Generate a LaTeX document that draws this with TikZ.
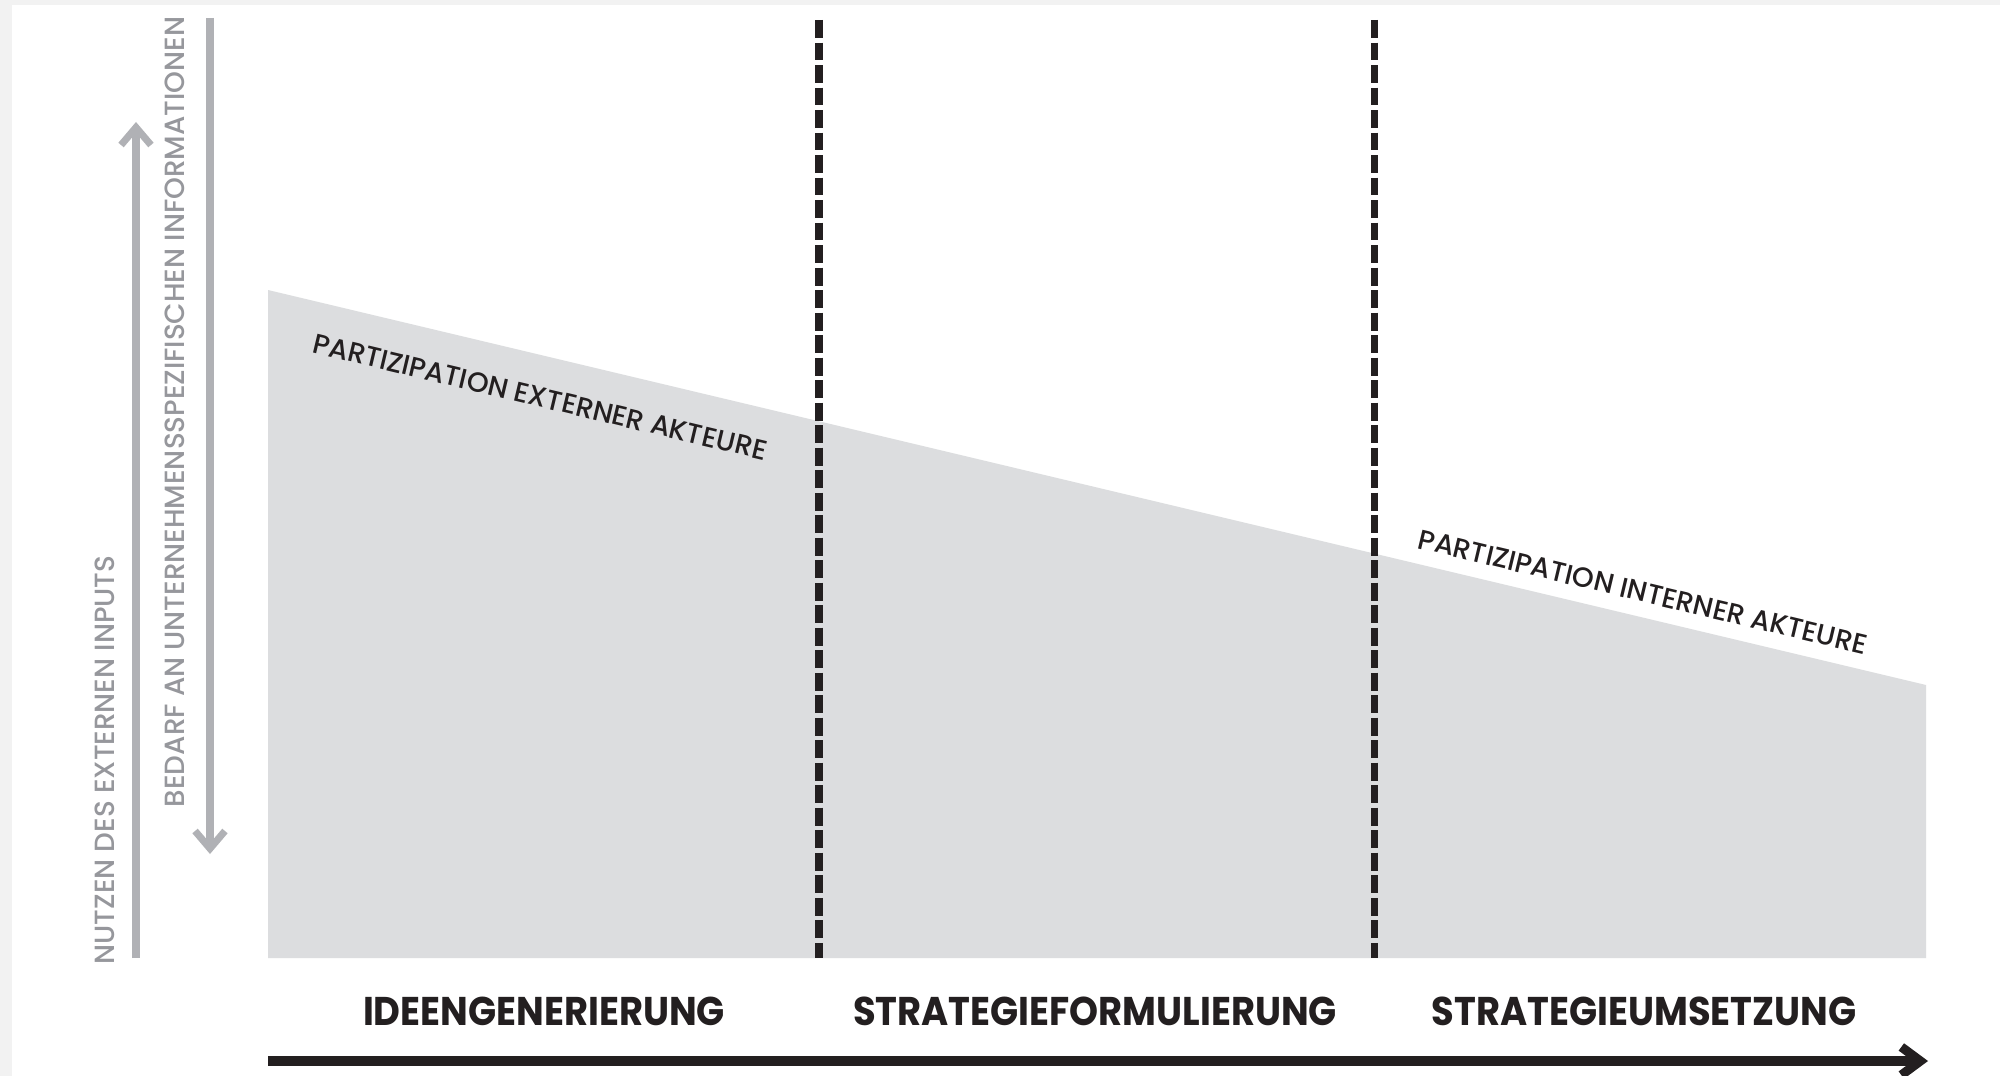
\documentclass[tikz,border=0pt]{standalone}
\usepackage{fontspec}
\setmainfont{Poppins}
\newfontfamily\phasefont[FakeStretch=0.92]{Poppins}
\newfontfamily\mediumfont{Poppins Medium}
\usetikzlibrary{arrows.meta,positioning}

\definecolor{areagray}{RGB}{220,221,223}
\definecolor{axisgray}{RGB}{176,177,181}
\definecolor{labelgray}{RGB}{150,151,156}
\definecolor{inkblack}{RGB}{35,31,32}
\definecolor{framegray}{RGB}{242,242,242}

\tikzset{
  phase/.style={font=\phasefont\bfseries\fontsize{11.4}{12}\selectfont, text=inkblack, inner sep=0pt},
  sidelabel/.style={rotate=90, font=\mediumfont\fontsize{7.9}{9}\selectfont, text=labelgray, inner sep=0pt},
  actorlabel/.style={rotate=-13.4, font=\mediumfont\fontsize{7.9}{10}\selectfont, text=inkblack, inner sep=0pt},
  phaseline/.style={inkblack, line width=2pt, dash pattern=on 5.1pt off 1.3pt},
  grayarrow/.style={axisgray, line width=2pt, -{Straight Barb[length=5pt,width=8.5pt]}},
  timearrow/.style={inkblack, line width=2.6pt, -{Straight Barb[length=5.4pt,width=8pt]}}
}

\begin{document}
\begin{tikzpicture}[x=0.01cm,y=-0.01cm]
        \useasboundingbox (0,0) rectangle (2000,1076);
        % Frame
        \fill[framegray] (0,0) rectangle (2000,1076);
        \fill[white] (12,5) rectangle (2000,1076);
        % Participation area
        \fill[areagray] (268,958) -- (268,290) -- (1926,685) -- (1926,958) -- cycle;
        % Phase borders
        \coordinate (sepAtop) at (819,20);
        \coordinate (sepAbot) at (819,958);
        \coordinate (sepBtop) at (1374,20);
        \coordinate (sepBbot) at (1374,958);
        \draw[phaseline] (sepAtop) -- (sepAbot);
        \draw[phaseline] (sepBtop) -- (sepBbot);
        % Side arrows
        \coordinate (benefitfoot) at (136,958);
        \coordinate (benefittip) at (136,122);
        \coordinate (demandfoot) at (210,18);
        \coordinate (demandtip) at (210,854);
        \draw[grayarrow] (benefitfoot) -- (benefittip);
        \draw[grayarrow] (demandfoot) -- (demandtip);
        \node[sidelabel] (benefit) at (105,760) {NUTZEN DES EXTERNEN INPUTS};
        \node[sidelabel] (demand) at (175,412) {BEDARF AN UNTERNEHMENSSPEZIFISCHEN INFORMATIONEN};
        % Labels on the slope
        \node[actorlabel] (external) at (540,397) {PARTIZIPATION EXTERNER AKTEURE};
        \node[actorlabel] (internal) at (1643,592) {PARTIZIPATION INTERNER AKTEURE};
        % Phases
        \node[phase] (ideas) at (544,1011) {IDEENGENERIERUNG};
        \node[phase] (formulation) at (1095,1011) {STRATEGIEFORMULIERUNG};
        \node[phase] (implementation) at (1644,1011) {STRATEGIEUMSETZUNG};
        % Time axis
        \coordinate (timestart) at (268,1061);
        \coordinate (timeend) at (1928,1061);
        \draw[timearrow] (timestart) -- (timeend);
    \end{tikzpicture}
\end{document}
